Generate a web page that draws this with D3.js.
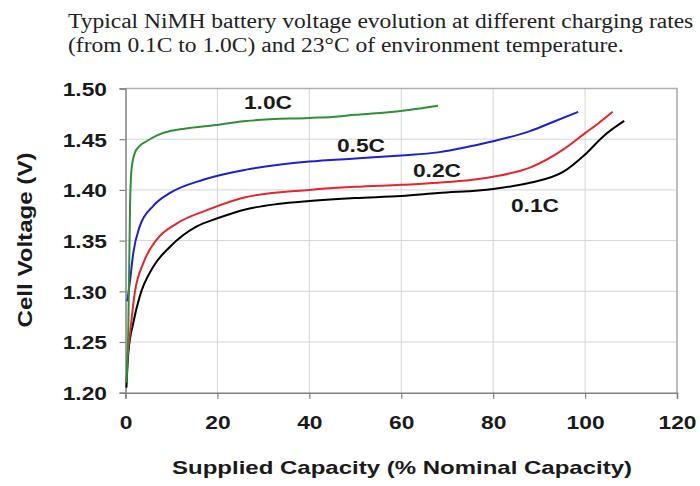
<!DOCTYPE html>
<html>
<head>
<meta charset="utf-8">
<script src="https://cdn.jsdelivr.net/npm/d3@7"></script>
<style>
  body { margin: 0; background: #fff; }
  svg { display: block; }
</style>
</head>
<body>
<svg id="chart" width="700" height="486"></svg>
<script>
// charge curves: capacity in %, voltage in V
var cap01 = [0.2, 0.6, 1.7, 3.1, 6, 9.7, 15.5, 20, 26.3, 33, 40, 50, 60, 68, 80, 88, 95.3, 100, 104, 108.5];
var volt01 = [1.205, 1.239, 1.269, 1.295, 1.324, 1.344, 1.364, 1.372, 1.381, 1.386, 1.389, 1.392, 1.394, 1.397, 1.401, 1.407, 1.418, 1.435, 1.453, 1.468];

var cap02 = [0.4, 1, 2, 3.9, 6.8, 11.2, 17.7, 26.3, 40, 50, 60, 68, 80, 88, 95.3, 100, 103, 106];
var volt02 = [1.235, 1.259, 1.298, 1.328, 1.351, 1.367, 1.380, 1.393, 1.400, 1.403, 1.405, 1.407, 1.413, 1.422, 1.440, 1.456, 1.466, 1.477];

var cap05 = [0.4, 1, 1.7, 3.1, 6, 9.7, 16.9, 26.3, 40, 50, 60, 68, 75, 80, 88, 93, 98.5];
var volt05 = [1.29, 1.311, 1.338, 1.364, 1.384, 1.397, 1.410, 1.420, 1.428, 1.431, 1.434, 1.437, 1.443, 1.448, 1.458, 1.467, 1.477];

var cap10 = [0.2, 0.6, 1, 1.3, 2, 3, 4.6, 7, 9.7, 14, 19.8, 26.3, 40, 45, 50, 56, 62, 68];
var volt10 = [1.21, 1.26, 1.387, 1.42, 1.436, 1.443, 1.448, 1.454, 1.458, 1.461, 1.464, 1.468, 1.471, 1.472, 1.474, 1.476, 1.479, 1.483];

var seriesNames = ["0.1C", "0.2C", "0.5C", "1.0C"];
var xTicks = [0, 20, 40, 60, 80, 100, 120];
var yTicks = [1.20, 1.25, 1.30, 1.35, 1.40, 1.45, 1.50];

var titleLines = [
  "Typical NiMH battery voltage evolution at different charging rates",
  "(from 0.1C to 1.0C) and 23\u00B0C of environment temperature."
];

var svg = d3.select("svg#chart");
var sans = "Arial, 'Liberation Sans', sans-serif";

var x = d3.scaleLinear().domain([0, 120]).range([125.5, 677]);
var y = d3.scaleLinear().domain([1.20, 1.50]).range([392.7, 88.5]);

var series = [
  {name: seriesNames[0], cap: cap01, volt: volt01, color: "#000000", lx: 535, ly: 205},
  {name: seriesNames[1], cap: cap02, volt: volt02, color: "#e3262b", lx: 437, ly: 170},
  {name: seriesNames[2], cap: cap05, volt: volt05, color: "#1f1fd0", lx: 361, ly: 145},
  {name: seriesNames[3], cap: cap10, volt: volt10, color: "#2f8f35", lx: 268, ly: 102}
];

// the original picture is a bit wider than tall, so stretch texts sideways
function widen(sel, f) {
  sel.each(function() {
    var w = this.getComputedTextLength();
    d3.select(this).attr("textLength", w * f).attr("lengthAdjust", "spacingAndGlyphs");
  });
}

// title
svg.append("g")
  .selectAll("text")
  .data(titleLines)
  .enter()
  .append("text")
  .attr("x", 68)
  .attr("y", (d, i) => 28 + i * 24)
  .style("font-family", "'Liberation Serif', 'Times New Roman', serif")
  .style("font-size", "20px")
  .style("fill", "#222")
  .text(d => d)
  .call(widen, 1.175);

// grid
var grid = svg.append("g").attr("id", "grid");
grid.selectAll("line.h")
  .data(yTicks.slice(1))
  .enter().append("line")
  .attr("class", "h")
  .attr("x1", x(0)).attr("x2", x(120))
  .attr("y1", d => y(d)).attr("y2", d => y(d))
  .style("stroke", "#d4d4d4").style("stroke-width", 1);
grid.selectAll("line.v")
  .data(xTicks.slice(1))
  .enter().append("line")
  .attr("class", "v")
  .attr("x1", d => x(d)).attr("x2", d => x(d))
  .attr("y1", y(1.20)).attr("y2", y(1.50))
  .style("stroke", "#d4d4d4").style("stroke-width", 1);

// frame top/right
svg.append("path")
  .attr("d", "M" + x(0) + "," + y(1.50) + "H" + x(120) + "V" + y(1.20))
  .style("fill", "none").style("stroke", "#b0b0b0").style("stroke-width", 1.5);

// axes
var xAxis = svg.append("g")
  .attr("transform", "translate(0," + y(1.20) + ")")
  .call(d3.axisBottom(x).tickValues(xTicks).tickSize(6).tickPadding(8).tickFormat(d3.format("d")));
var yAxis = svg.append("g")
  .attr("transform", "translate(" + x(0) + ",0)")
  .call(d3.axisLeft(y).tickValues(yTicks).tickSize(6).tickPadding(12.5).tickFormat(d3.format(".2f")));

[xAxis, yAxis].forEach(ax => {
  ax.select(".domain").style("stroke", "#808080").style("stroke-width", 1.5);
  ax.selectAll(".tick line").style("stroke", "#808080").style("stroke-width", 1.2);
  ax.selectAll(".tick text")
    .style("font-family", sans)
    .style("font-weight", "bold")
    .style("font-size", "19px")
    .style("fill", "#1a1a1a");
});
xAxis.selectAll(".tick text").attr("dy", "1.16em").call(widen, 1.2);
yAxis.selectAll(".tick text").attr("dy", "0.36em").call(widen, 1.2);

// axis titles
svg.append("text")
  .attr("x", 402)
  .attr("y", 474)
  .attr("text-anchor", "middle")
  .style("font-family", sans)
  .style("font-weight", "bold")
  .style("font-size", "19px")
  .style("fill", "#1a1a1a")
  .text("Supplied Capacity (% Nominal Capacity)")
  .attr("textLength", 460)
  .attr("lengthAdjust", "spacingAndGlyphs");

svg.append("text")
  .attr("transform", "translate(32,240) rotate(-90)")
  .attr("text-anchor", "middle")
  .style("font-family", sans)
  .style("font-weight", "bold")
  .style("font-size", "20px")
  .style("fill", "#1a1a1a")
  .text("Cell Voltage (V)")
  .attr("textLength", 175)
  .attr("lengthAdjust", "spacingAndGlyphs");

// curves
var line = d3.line()
  .x(d => x(d[0]))
  .y(d => y(d[1]))
  .curve(d3.curveMonotoneX);

svg.append("g")
  .selectAll("path")
  .data(series)
  .enter()
  .append("path")
  .attr("d", s => line(s.cap.map((c, i) => [c, s.volt[i]])))
  .style("fill", "none")
  .style("stroke", s => s.color)
  .style("stroke-width", 2);

// curve labels
svg.append("g")
  .selectAll("text")
  .data(series)
  .enter()
  .append("text")
  .attr("x", s => s.lx)
  .attr("y", s => s.ly)
  .attr("dy", "0.36em")
  .attr("text-anchor", "middle")
  .style("font-family", sans)
  .style("font-weight", "bold")
  .style("font-size", "19px")
  .style("fill", "#1a1a1a")
  .text(s => s.name)
  .call(widen, 1.2);
</script>
</body>
</html>
